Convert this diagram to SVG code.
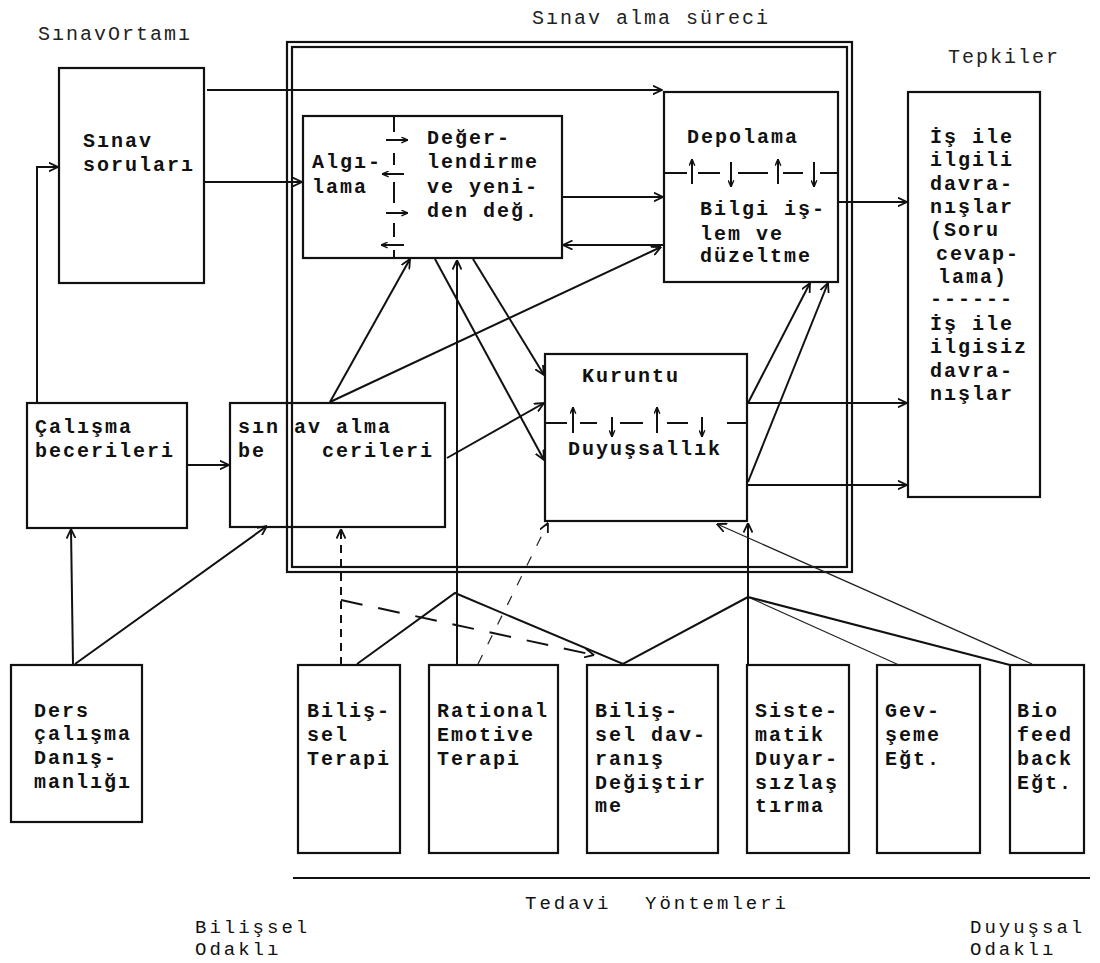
<svg xmlns="http://www.w3.org/2000/svg" width="1100" height="963" viewBox="0 0 1100 963">
<defs>
<marker id="ah" viewBox="0 0 10 10" refX="9.5" refY="5" markerWidth="10" markerHeight="10" markerUnits="userSpaceOnUse" orient="auto">
<path d="M0,0.5 L9.5,5 L0,9.5" fill="none" stroke="#111" stroke-width="1.8"/>
</marker>
<marker id="sm" viewBox="0 0 10 10" refX="9.5" refY="5" markerWidth="7" markerHeight="7" markerUnits="userSpaceOnUse" orient="auto">
<path d="M0,1 L9.5,5 L0,9" fill="none" stroke="#111" stroke-width="2"/>
</marker>
</defs>
<style>
.box{fill:none;stroke:#111;stroke-width:2.2}
.t{font-family:"Liberation Mono","DejaVu Sans Mono",monospace;font-weight:bold;font-size:20px;letter-spacing:2px;fill:#111}
.h{font-family:"Liberation Mono","DejaVu Sans Mono",monospace;font-size:20px;letter-spacing:2px;fill:#222}
.f{font-family:"Liberation Mono","DejaVu Sans Mono",monospace;font-size:19px;letter-spacing:3px;fill:#111}
.c{fill:none;stroke:#111;stroke-width:2}
.thin{fill:none;stroke:#222;stroke-width:1.2}
.arr{marker-end:url(#ah)}
.sa{marker-end:url(#sm)}
</style>
<rect width="1100" height="963" fill="#fff"/>

<g id="labels">
<text class="h" x="38" y="40">SınavOrtamı</text>
<text class="h" x="532" y="24">Sınav alma süreci</text>
<text class="h" x="948" y="63">Tepkiler</text>
</g>

<g id="sinav-alma-sureci">
<rect x="287" y="42" width="565" height="530" class="box"/>
<rect x="292" y="47" width="555" height="520" class="box"/>
</g>

<g id="sinav-sorulari">
<rect x="59" y="68" width="145" height="215" class="box"/>
<text class="t" x="83" y="147">Sınav</text>
<text class="t" x="83" y="171">soruları</text>
</g>

<g id="algilama">
<rect x="303" y="116" width="259" height="142" class="box"/>
<path class="c" d="M394,116 V132 M394,153 V165 M394,182 V203 M394,223 V237 M394,250 V258"/>
<path class="c sa" d="M386,140 H408"/>
<path class="c sa" d="M404,174 H382"/>
<path class="c sa" d="M386,213 H408"/>
<path class="c sa" d="M404,245 H381"/>
<text class="t" x="312" y="168">Algı-</text>
<text class="t" x="312" y="193">lama</text>
<text class="t" x="427" y="144">Değer-</text>
<text class="t" x="427" y="168">lendirme</text>
<text class="t" x="427" y="193">ve yeni-</text>
<text class="t" x="427" y="217">den değ.</text>
</g>

<g id="depolama">
<rect x="664" y="92" width="174" height="190" class="box"/>
<path class="c" d="M664,173 H687 M698,173 H720 M738,173 H768 M783,173 H803 M820,173 H838"/>
<path class="c sa" d="M692,184 V159"/>
<path class="c sa" d="M731,162 V187"/>
<path class="c sa" d="M778,184 V159"/>
<path class="c sa" d="M814,162 V187"/>
<text class="t" x="687" y="143">Depolama</text>
<text class="t" x="700" y="215">Bilgi iş-</text>
<text class="t" x="700" y="240">lem ve</text>
<text class="t" x="700" y="262">düzeltme</text>
</g>

<g id="tepkiler">
<rect x="908" y="92" width="132" height="405" class="box"/>
<text class="t" x="930" y="143">İş ile</text>
<text class="t" x="930" y="166">ilgili</text>
<text class="t" x="930" y="190">davra-</text>
<text class="t" x="930" y="213">nışlar</text>
<text class="t" x="930" y="236">(Soru</text>
<text class="t" x="936" y="260">cevap-</text>
<text class="t" x="938" y="283">lama)</text>
<text class="t" x="930" y="305">------</text>
<text class="t" x="930" y="330">İş ile</text>
<text class="t" x="930" y="353">ilgisiz</text>
<text class="t" x="930" y="377">davra-</text>
<text class="t" x="930" y="400">nışlar</text>
</g>

<g id="kuruntu">
<rect x="545" y="354" width="202" height="167" class="box"/>
<path class="c" d="M545,423 H567 M580,423 H597 M620,423 H643 M667,423 H688 M727,423 H747"/>
<path class="c sa" d="M573,433 V407"/>
<path class="c sa" d="M612,417 V437"/>
<path class="c sa" d="M657,433 V407"/>
<path class="c sa" d="M702,417 V437"/>
<text class="t" x="582" y="382">Kuruntu</text>
<text class="t" x="568" y="455">Duyuşsallık</text>
</g>

<g id="calisma-becerileri">
<rect x="27" y="403" width="160" height="125" class="box"/>
<text class="t" x="35" y="433">Çalışma</text>
<text class="t" x="35" y="457">becerileri</text>
</g>

<g id="sinav-alma-becerileri">
<rect x="230" y="403" width="215" height="124" class="box"/>
<text class="t" x="238" y="433">sın</text>
<text class="t" x="294" y="433">av alma</text>
<text class="t" x="238" y="457">be</text>
<text class="t" x="322" y="457">cerileri</text>
</g>

<g id="ders-calisma">
<rect x="11" y="665" width="131" height="157" class="box"/>
<text class="t" x="34" y="717">Ders</text>
<text class="t" x="34" y="740">çalışma</text>
<text class="t" x="34" y="764">Danış-</text>
<text class="t" x="34" y="788">manlığı</text>
</g>

<g id="bilissel-terapi">
<rect x="298" y="665" width="102" height="188" class="box"/>
<text class="t" x="307" y="717">Biliş-</text>
<text class="t" x="307" y="741">sel</text>
<text class="t" x="307" y="765">Terapi</text>
</g>

<g id="rational-emotive">
<rect x="429" y="665" width="129" height="188" class="box"/>
<text class="t" x="437" y="717">Rational</text>
<text class="t" x="437" y="741">Emotive</text>
<text class="t" x="437" y="765">Terapi</text>
</g>

<g id="bilissel-davranis">
<rect x="587" y="665" width="131" height="188" class="box"/>
<text class="t" x="595" y="717">Biliş-</text>
<text class="t" x="595" y="741">sel dav-</text>
<text class="t" x="595" y="765">ranış</text>
<text class="t" x="595" y="789">Değiştir</text>
<text class="t" x="595" y="812">me</text>
</g>

<g id="sistematik">
<rect x="747" y="665" width="102" height="188" class="box"/>
<text class="t" x="755" y="717">Siste-</text>
<text class="t" x="755" y="741">matik</text>
<text class="t" x="755" y="765">Duyar-</text>
<text class="t" x="755" y="789">sızlaş</text>
<text class="t" x="755" y="812">tırma</text>
</g>

<g id="gevseme">
<rect x="877" y="665" width="103" height="188" class="box"/>
<text class="t" x="885" y="717">Gev-</text>
<text class="t" x="885" y="741">şeme</text>
<text class="t" x="885" y="765">Eğt.</text>
</g>

<g id="biofeedback">
<rect x="1010" y="665" width="74" height="188" class="box"/>
<text class="t" x="1017" y="717">Bio</text>
<text class="t" x="1017" y="741">feed</text>
<text class="t" x="1017" y="765">back</text>
<text class="t" x="1017" y="789">Eğt.</text>
</g>

<g id="tedavi-yontemleri">
<path d="M293,878 H1090" stroke="#111" stroke-width="2.2" fill="none"/>
<text class="f" x="525" y="909">Tedavi</text>
<text class="f" x="645" y="909">Yöntemleri</text>
<text class="f" x="195" y="933">Bilişsel</text>
<text class="f" x="195" y="955">Odaklı</text>
<text class="f" x="970" y="933">Duyuşsal</text>
<text class="f" x="970" y="955">Odaklı</text>
</g>

<g id="connectors">
<path class="c arr" d="M207,90 H662"/>
<path class="c arr" d="M204,182 H302"/>
<path class="c arr" d="M37,403 V167 H58"/>
<path class="c arr" d="M562,197 H663"/>
<path class="c arr" d="M663,245 H563"/>
<path class="c arr" d="M838,202 H907"/>
<path class="c arr" d="M747,403 H907"/>
<path class="c arr" d="M747,485 H907"/>
<path class="c arr" d="M748,403 L810,283"/>
<path class="c arr" d="M748,482 L828,283"/>
<path class="c arr" d="M187,465 H229"/>
<path class="c arr" d="M330,402 L410,259"/>
<path class="c arr" d="M330,402 L661,247"/>
<path class="c arr" d="M447,458 L544,403"/>
<path class="c arr" d="M435,259 L544,460"/>
<path class="c arr" d="M473,259 L544,375"/>
<path class="c arr" d="M457,665 V260"/>
<path class="c" d="M357,664 L455,593 L623,664 L748,597"/>
<path class="c arr" d="M748,665 V523"/>
<path class="thin" d="M748,597 L899,665"/>
<path class="c" d="M748,597 L1010,665"/>
<path class="thin arr" d="M1032,664 L717,524"/>
<path class="c arr" d="M73,665 L71,529"/>
<path class="c arr" d="M75,664 L267,526"/>
<path class="c arr" d="M341,665 V529" stroke-dasharray="8 6" stroke-width="2.2"/>
<path class="c arr" d="M341,600 L594,655" stroke-dasharray="22 16"/>
<path class="thin arr" d="M478,664 L548,523" stroke-dasharray="10 12" stroke-width="1.6"/>
</g>
</svg>
